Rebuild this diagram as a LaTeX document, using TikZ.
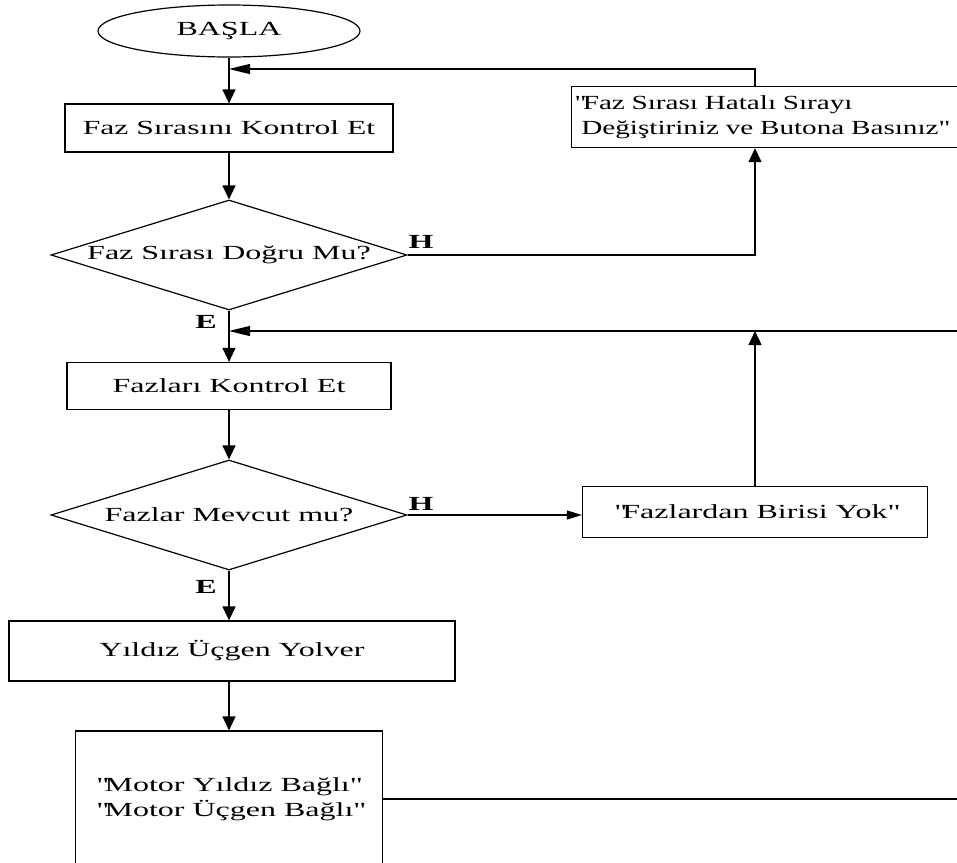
\documentclass[tikz,border=0pt]{standalone}
\usepackage{fontspec}
\setmainfont[FakeStretch=1.6]{Liberation Serif}
\newfontfamily\widefont[FakeStretch=1.58]{Liberation Serif}
\newfontfamily\msgfont[FakeStretch=1.46]{Liberation Serif}
\newcommand{\q}{\textquotedbl}
\usetikzlibrary{arrows,arrows.meta,shapes,positioning,calc}

\begin{document}
\begin{tikzpicture}[x = 1pt, y = -1pt, line width = 1.2pt,
    font = \fontsize{20}{25}\selectfont,
    box/.style = {draw, rectangle, inner sep = 4pt},
    cond/.style = {draw, diamond, aspect = 3.2, inner sep = 0pt, minimum width = 356pt, minimum height = 110pt},
    flow/.style = {-{Triangle[width = 13pt, length = 14pt]}},
    back/.style = {-{Triangle[width = 10pt, length = 21pt]}},
    side/.style = {-{Triangle[width = 9pt, length = 15pt]}},
    yn/.style = {font = \fontsize{20}{25}\selectfont\bfseries}]
    \useasboundingbox (0,0) rectangle (957,862);
    \clip (0,0) rectangle (957,862);
    % Main column
    \node[draw, ellipse, inner sep = 0pt, minimum width = 262pt, minimum height = 52pt] (start) at (229,31) {BAŞLA};
    \node[box, minimum width = 328pt, minimum height = 48pt, font = \fontsize{20}{25}\widefont] (sira) at (229,128) {Faz Sırasını Kontrol Et};
    \node[cond] (siraok) at (229,255) {Faz Sırası Doğru Mu?};
    \node[box, minimum width = 324pt, minimum height = 47pt] (faz) at (229,386) {Fazları Kontrol Et};
    \node[cond] (fazok) at (229,515) {Fazlar Mevcut mu?};
    \node[box, minimum width = 446pt, minimum height = 60pt] (yolver) at (232,651) {Yıldız Üçgen Yolver};
    \node[box, align = left, minimum width = 307pt, minimum height = 136pt] (motor) at (229,799) {\q Motor Yıldız Bağlı\q\\\q Motor Üçgen Bağlı\q};
    % Messages on the right
    \node[box, anchor = north west, align = left, text width = 460pt, minimum height = 61pt, inner xsep = 3pt, font = \fontsize{20}{25}\msgfont] (hatali) at (571,86) {\q Faz Sırası Hatalı Sırayı\\\ Değiştiriniz ve Butona Basınız\q};
    \node[box, minimum width = 345pt, minimum height = 51pt] (yok) at (755,512) {\q Fazlardan Birisi Yok\q};
    % Yes / no marks
    \node[yn] (h1) at (421,242) {H};
    \node[yn] (e1) at (206,322) {E};
    \node[yn] (h2) at (421,504) {H};
    \node[yn] (e2) at (206,587) {E};
    % Joints and the far right edge
    \coordinate (join1) at (229,69);
    \coordinate (join2) at (229,331);
    \coordinate (up1) at (755,0);
    \coordinate (edge) at (980,0);
    % Straight flow
    \draw[flow] (start) -- (sira);
    \draw[flow] (sira) -- (siraok);
    \draw[flow] (siraok) -- (faz);
    \draw[flow] (faz) -- (fazok);
    \draw[flow] (fazok.south) -- (fazok.south |- yolver.north);
    \draw[flow] (yolver.south -| motor.north) -- (motor.north);
    % Wrong phase order loop
    \draw[flow] (siraok.east) -| (up1 |- hatali.south);
    \draw[back] (up1 |- hatali.north) |- (join1);
    % Missing phase loop
    \draw[side] (fazok.east) -- (fazok.east -| yok.west);
    \draw[flow] (yok.north) -- (yok.north |- join2);
    \draw[back] (motor.east) -- (motor.east -| edge) -- (edge |- join2) -- (join2);
\end{tikzpicture}
\end{document}
